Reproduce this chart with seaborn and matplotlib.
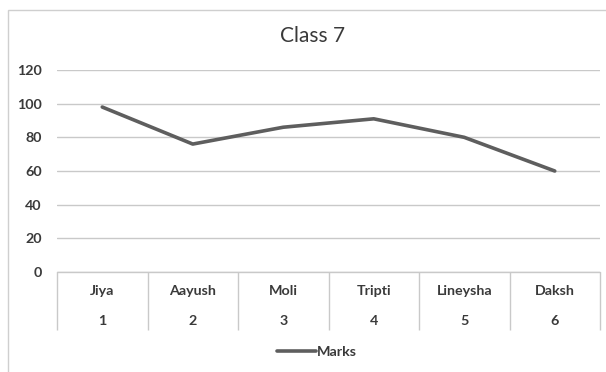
import matplotlib
matplotlib.use("Agg")
import matplotlib.pyplot as plt
import matplotlib.transforms as mtransforms
from matplotlib.patches import Rectangle
import seaborn as sns
import pandas as pd

students = ["Jiya", "Aayush", "Moli", "Tripti", "Lineysha", "Daksh"]
roll_numbers = ["1", "2", "3", "4", "5", "6"]
marks = [98, 76, 86, 91, 80, 60]
y_ticks = [0, 20, 40, 60, 80, 100, 120]

sns.set_theme(style="white")
plt.rcParams["font.family"] = ["Lato", "DejaVu Sans"]

text_color = "#3a3a3a"
grid_color = "#c9c9c9"
line_color = "#5e5e5e"
label_size = 10.3

df = pd.DataFrame({"pos": range(len(students)), "Marks": marks})

fig = plt.figure(figsize=(6.06, 3.72), dpi=100)
W, H = 606, 372
ax = fig.add_axes([57 / W, 1 - 272 / H, (600 - 57) / W, (272 - 70) / H])

# chart frame
fig.patches.append(Rectangle((8 / W, -0.05), 1.2, 1 - 10 / H + 0.05,
                             transform=fig.transFigure, fill=False,
                             edgecolor="#cfcfcf", linewidth=1.0))

sns.lineplot(data=df, x="pos", y="Marks", ax=ax, color=line_color,
             linewidth=2.6, label="Marks", sort=False)

ax.set_xlim(-0.5, len(students) - 0.5)
ax.set_ylim(0, 120)
ax.set_yticks(y_ticks)
ax.set_yticklabels([str(v) for v in y_ticks], fontsize=label_size,
                   color=text_color, fontweight="bold")
ax.tick_params(axis="y", length=0, pad=11)
ax.yaxis.grid(True, color=grid_color, linewidth=1.0)
ax.set_axisbelow(True)
for s in ax.spines.values():
    s.set_visible(False)
ax.axhline(0, color=grid_color, linewidth=1.0, clip_on=False)

# two-level category axis: dividers between categories
bounds = [i - 0.5 for i in range(len(students) + 1)]
ax.set_xticks(bounds)
ax.set_xticklabels([""] * len(bounds))
ax.tick_params(axis="x", direction="out", length=42, width=1.0,
               color=grid_color, bottom=True)
ax.set_xlabel("")
ax.set_ylabel("")

trans = mtransforms.blended_transform_factory(ax.transData, ax.transAxes)
for i, (name, num) in enumerate(zip(students, roll_numbers)):
    ax.text(i, -19 / 202, name, transform=trans, ha="center", va="center",
            fontsize=label_size, color=text_color, fontweight="bold")
    ax.text(i, -49 / 202, num, transform=trans, ha="center", va="center",
            fontsize=label_size, color=text_color, fontweight="bold")

fig.text(313 / W, 1 - 36 / H, "Class 7", ha="center", va="center",
         fontsize=15, color=text_color)

ax.legend_.remove()
handles, labels = ax.get_legend_handles_labels()
fig.legend(handles, labels, loc="center", bbox_to_anchor=(317 / W, 1 - 352 / H),
           frameon=False, handlelength=2.7, handletextpad=0.1,
           labelcolor=text_color, prop={"weight": "bold", "size": label_size})

fig.savefig("out.png", dpi=100)
